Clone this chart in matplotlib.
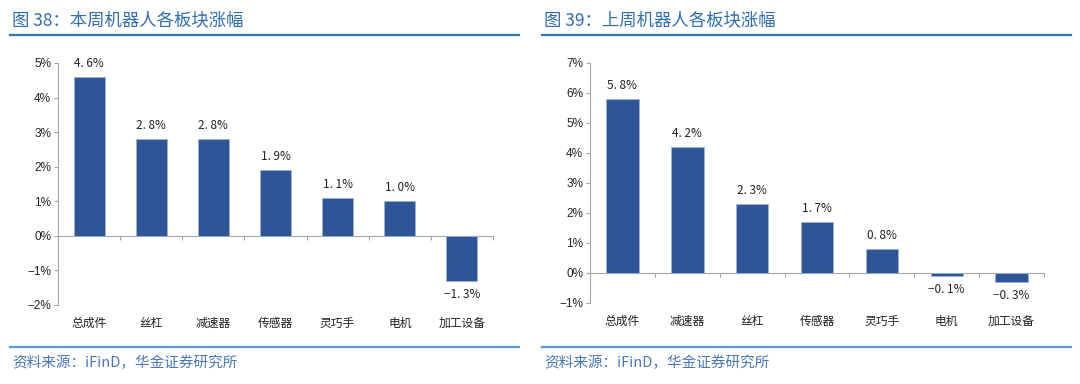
import matplotlib.pyplot as plt
from matplotlib.lines import Line2D
from matplotlib.ticker import FuncFormatter
import matplotlib.transforms as mtransforms

plt.rcParams['font.family'] = ['Noto Sans CJK SC', 'DejaVu Sans']

# data
cats_week = ['总成件', '丝杠', '减速器', '传感器', '灵巧手', '电机', '加工设备']
vals_week = [4.6, 2.8, 2.8, 1.9, 1.1, 1.0, -1.3]
cats_prev = ['总成件', '减速器', '丝杠', '传感器', '灵巧手', '电机', '加工设备']
vals_prev = [5.8, 4.2, 2.3, 1.7, 0.8, -0.1, -0.3]

title_left = '图 38：本周机器人各板块涨幅'
title_right = '图 39：上周机器人各板块涨幅'
source = '资料来源：iFinD，华金证券研究所'

bar_color = '#2E5596'
axis_color = '#A6A6A6'
title_color = '#2E6DB4'
line_color = '#2E75B6'

fig = plt.figure(figsize=(10.8, 3.84), dpi=100)


def draw_panel(rect, cats, vals, ylim, ystep):
    ax = fig.add_axes(rect)
    x = range(len(cats))
    ax.bar(x, vals, width=0.5, color=bar_color, edgecolor='#9DB3D8', linewidth=0.6, zorder=3)
    ax.set_xlim(-0.5, len(cats) - 0.5)
    ax.set_ylim(*ylim)
    ax.set_yticks([v for v in range(ylim[0], ylim[1] + 1, ystep)])
    ax.yaxis.set_major_formatter(FuncFormatter(lambda v, p: f'{v:.0f}%'.replace('-', '\u2212')))
    for lab in ax.get_yticklabels():
        lab.set_family(['Liberation Sans', 'DejaVu Sans'])
    for s in ['top', 'right']:
        ax.spines[s].set_visible(False)
    ax.spines['bottom'].set_position(('data', 0))
    ax.spines['bottom'].set_color(axis_color)
    ax.spines['left'].set_color(axis_color)
    ax.set_xticks([i + 0.5 for i in range(len(cats))])
    ax.set_xticklabels([])
    ax.tick_params(axis='x', length=3, color=axis_color, direction='out')
    ax.tick_params(axis='y', length=3, color=axis_color, labelsize=8.5, labelcolor='#222222', pad=2)
    for lab in ax.get_yticklabels():
        lab.set_family(['Liberation Sans', 'DejaVu Sans'])
    # category labels below the plot area
    trans = mtransforms.blended_transform_factory(ax.transData, ax.transAxes)
    for i, c in enumerate(cats):
        ax.text(i, -0.05, c, transform=trans, ha='center', va='top', fontsize=8.5, color='#222222')
    # value labels
    span = ylim[1] - ylim[0]
    for i, v in enumerate(vals):
        label = f'{v:.1f}%'.replace('.', '. ').replace('-', '\u2212')
        if v >= 0:
            ax.text(i, v + span * 0.03, label, ha='center', va='bottom', fontsize=8.5, color='#222222')
        else:
            ax.text(i, v - span * 0.03, label, ha='center', va='top', fontsize=8.5, color='#222222')
    return ax


draw_panel([0.0537, 0.206, 0.4028, 0.630], cats_week, vals_week, (-2, 5), 1)
draw_panel([0.5463, 0.211, 0.4204, 0.625], cats_prev, vals_prev, (-1, 7), 1)

# titles and rules
fig.text(12 / 1080, 1 - 20 / 384, title_left, fontsize=12.5, color=title_color, va='center', ha='left')
fig.text(544 / 1080, 1 - 20 / 384, title_right, fontsize=12.5, color=title_color, va='center', ha='left')
for x0, x1 in [(10, 519), (542, 1071)]:
    fig.add_artist(Line2D([x0 / 1080, x1 / 1080], [1 - 35 / 384] * 2, color=line_color, lw=1.6))
    fig.add_artist(Line2D([x0 / 1080, x1 / 1080], [1 - 347 / 384] * 2, color='#5B9BD5', lw=1.6))
    fig.text((x0 + 2) / 1080, 1 - 363 / 384, source, fontsize=10.5, color='#4A78B8',
             style='italic', va='center', ha='left')

fig.savefig('out.png', dpi=100)
